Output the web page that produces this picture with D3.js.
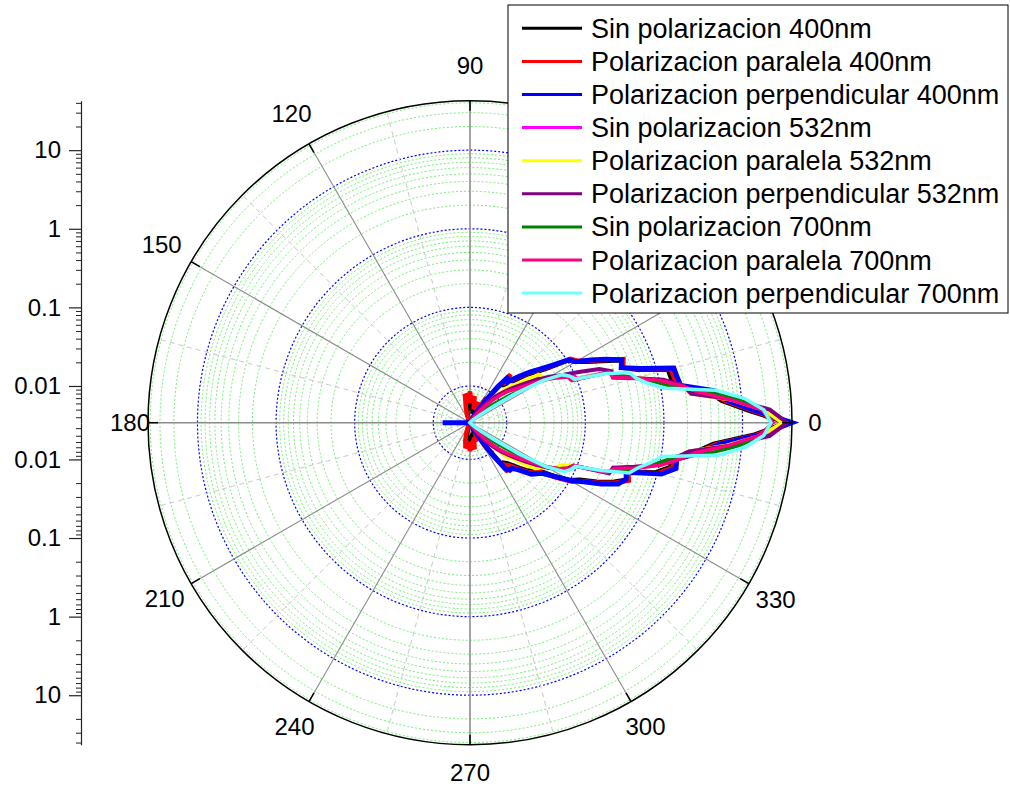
<!DOCTYPE html>
<html>
<head>
<meta charset="utf-8">
<script src="https://cdn.jsdelivr.net/npm/d3@7"></script>
<style>
  body { margin: 0; background: #ffffff; }
  svg { display: block; }
  text { font-family: Arial, "Liberation Sans", sans-serif; }
</style>
</head>
<body>
<svg id="chart" width="1010" height="788"></svg>
<script>
// Scattering angle (degrees) shared by every series
const angles = [
  0, 2.5, 5, 7.5, 10, 12.5, 15, 17.5, 20, 22.5, 25, 27.5, 30,
  32.5, 35, 37.5, 40, 42.5, 45, 47.5, 50, 52.5, 55, 57.5, 60,
  65, 70, 75, 80, 85, 90, 95, 100, 105, 110, 115, 120,
  125, 130, 135, 140, 145, 150, 155, 160, 165, 170, 175, 180,
  185, 190, 195, 200, 205, 210, 215, 220, 225, 230, 235, 240,
  245, 250, 255, 260, 265, 270, 275, 280, 285, 290, 295,
  300, 302.5, 305, 307.5, 310, 312.5, 315, 317.5, 320, 322.5, 325, 327.5,
  330, 332.5, 335, 337.5, 340, 342.5, 345, 347.5, 350, 352.5, 355, 357.5
];

// Scattered intensity for each polarization / wavelength
const sinPol400 = [
  36.0, 12.1, 5.6, 3.9, 1.52, 1.42, 1.38, 0.59, 0.385, 0.41, 0.245, 0.162, 0.121,
  0.102, 0.056, 0.039, 0.031, 0.023, 0.0182, 0.0158, 0.018, 0.0105, 0.0065, 0.0058, 0.0042,
  0.0048, 0.0052, 0.0045, 0.0058, 0.0050, 0.0064, 0.0055, 0.0060, 0.0046, 0.0040, 0.0035, 0.0030,
  0.0028, 0.0027, 0.0026, 0.0026, 0.0025, 0.0025, 0.0026, 0.0026, 0.0027, 0.0028, 0.0029, 0.0036,
  0.0029, 0.0028, 0.0027, 0.0026, 0.0025, 0.0025, 0.0026, 0.0026, 0.0027, 0.0028, 0.0029, 0.0031,
  0.0036, 0.0040, 0.0047, 0.0057, 0.0050, 0.0062, 0.0054, 0.0059, 0.0046, 0.0050, 0.0042,
  0.0041, 0.0056, 0.0088, 0.0165, 0.0158, 0.0172, 0.020, 0.0245, 0.030, 0.035, 0.039, 0.062,
  0.099, 0.128, 0.205, 0.318, 0.45, 0.41, 0.95, 1.39, 1.36, 2.6, 4.4, 13.8
];
const paralela400 = [
  37.9, 13.2, 5.99, 4.21, 1.65, 1.55, 1.50, 0.628, 0.404, 0.442, 0.261, 0.173, 0.129,
  0.111, 0.0602, 0.0424, 0.0335, 0.025, 0.0198, 0.0171, 0.0216, 0.0117, 0.0071, 0.0082, 0.0049,
  0.0058, 0.0065, 0.0051, 0.0075, 0.0061, 0.0085, 0.0069, 0.0080, 0.0055, 0.0045, 0.0038, 0.0031,
  0.0029, 0.0028, 0.0027, 0.0026, 0.0027, 0.0026, 0.0025, 0.0026, 0.0027, 0.0028, 0.0029, 0.0030,
  0.0029, 0.0028, 0.0027, 0.0026, 0.0025, 0.0026, 0.0027, 0.0026, 0.0027, 0.0028, 0.0030, 0.0033,
  0.0039, 0.0046, 0.0058, 0.0073, 0.0060, 0.0078, 0.0065, 0.0075, 0.0053, 0.0061, 0.0049,
  0.0049, 0.0082, 0.0098, 0.021, 0.0171, 0.0187, 0.0216, 0.0265, 0.0326, 0.0377, 0.0424, 0.0677,
  0.108, 0.137, 0.219, 0.339, 0.482, 0.442, 1.03, 1.50, 1.47, 2.80, 4.74, 14.9
];
const perpendicular400 = [
  42.5, 14.4, 6.53, 4.60, 1.80, 1.70, 1.65, 0.665, 0.381, 0.418, 0.276, 0.183, 0.122,
  0.105, 0.0639, 0.045, 0.0345, 0.0265, 0.0210, 0.0161, 0.0198, 0.0128, 0.0071, 0.0051, 0.0043,
  0.0036, 0.0032, 0.0030, 0.0029, 0.0030, 0.0031, 0.0029, 0.0028, 0.0027, 0.0028, 0.0027, 0.0026,
  0.0027, 0.0026, 0.0025, 0.0026, 0.0025, 0.0026, 0.0028, 0.0027, 0.0029, 0.0030, 0.0031, 0.0076,
  0.0031, 0.0030, 0.0028, 0.0027, 0.0026, 0.0025, 0.0026, 0.0025, 0.0026, 0.0027, 0.0026, 0.0027,
  0.0028, 0.0027, 0.0028, 0.0029, 0.0030, 0.0029, 0.0030, 0.0031, 0.0032, 0.0033, 0.0036,
  0.0043, 0.0061, 0.011, 0.0187, 0.021, 0.021, 0.0236, 0.0281, 0.0356, 0.040, 0.045, 0.0639,
  0.0992, 0.145, 0.239, 0.370, 0.442, 0.418, 1.13, 1.65, 1.60, 3.05, 5.17, 16.2
];
const sinPol532 = [
  33.5, 19.5, 7.6, 2.3, 1.88, 1.08, 0.54, 0.285, 0.27, 0.10, 0.096, 0.064, 0.05,
  0.039, 0.033, 0.023, 0.017, 0.015, 0.0106, 0.0081, 0.0064, 0.0052, 0.0045, 0.0039, 0.0035,
  0.0033, 0.0031, 0.0030, 0.0029, 0.0028, 0.0028, 0.0027, 0.0027, 0.0026, 0.0026, 0.0025, 0.0025,
  0.0025, 0.0024, 0.0024, 0.0024, 0.0023, 0.0023, 0.0023, 0.0023, 0.0024, 0.0024, 0.0024, 0.0025,
  0.0024, 0.0024, 0.0024, 0.0023, 0.0023, 0.0023, 0.0023, 0.0024, 0.0024, 0.0024, 0.0025, 0.0025,
  0.0025, 0.0026, 0.0026, 0.0027, 0.0027, 0.0028, 0.0028, 0.0029, 0.0030, 0.0031, 0.0033,
  0.0036, 0.0040, 0.0044, 0.0052, 0.0063, 0.0079, 0.0100, 0.0136, 0.016, 0.021, 0.029, 0.037,
  0.047, 0.061, 0.072, 0.090, 0.26, 0.285, 0.51, 1.03, 1.48, 2.18, 6.9, 19.5
];
const paralela532 = [
  31.8, 18.8, 7.35, 2.28, 1.91, 1.06, 0.558, 0.293, 0.261, 0.0963, 0.0857, 0.0602, 0.0505,
  0.0424, 0.040, 0.0265, 0.0187, 0.0176, 0.011, 0.0082, 0.0061, 0.0049, 0.0042, 0.0038, 0.0035,
  0.0032, 0.0030, 0.0029, 0.0028, 0.0028, 0.0027, 0.0027, 0.0026, 0.0026, 0.0025, 0.0025, 0.0024,
  0.0024, 0.0024, 0.0023, 0.0023, 0.0023, 0.0022, 0.0022, 0.0022, 0.0023, 0.0023, 0.0023, 0.0024,
  0.0023, 0.0023, 0.0023, 0.0022, 0.0022, 0.0022, 0.0023, 0.0023, 0.0023, 0.0024, 0.0024, 0.0024,
  0.0025, 0.0025, 0.0026, 0.0026, 0.0027, 0.0027, 0.0028, 0.0028, 0.0029, 0.0030, 0.0032,
  0.0035, 0.0038, 0.0042, 0.0049, 0.0060, 0.0078, 0.0104, 0.0157, 0.0176, 0.025, 0.0356, 0.040,
  0.0477, 0.0585, 0.0639, 0.0908, 0.261, 0.293, 0.526, 1.06, 1.50, 2.15, 6.53, 17.7
];
const perpendicular532 = [
  36.8, 22.4, 8.03, 2.35, 1.91, 1.13, 0.526, 0.276, 0.282, 0.206, 0.115, 0.0697, 0.0505,
  0.0356, 0.0265, 0.0198, 0.0157, 0.0128, 0.0104, 0.0082, 0.0069, 0.0058, 0.0049, 0.0042, 0.0038,
  0.0034, 0.0032, 0.0031, 0.0030, 0.0029, 0.0028, 0.0028, 0.0027, 0.0027, 0.0026, 0.0026, 0.0025,
  0.0025, 0.0025, 0.0024, 0.0024, 0.0024, 0.0023, 0.0023, 0.0023, 0.0024, 0.0024, 0.0025, 0.0025,
  0.0025, 0.0024, 0.0024, 0.0023, 0.0023, 0.0023, 0.0024, 0.0024, 0.0024, 0.0025, 0.0025, 0.0026,
  0.0026, 0.0027, 0.0027, 0.0028, 0.0028, 0.0029, 0.0029, 0.0030, 0.0031, 0.0032, 0.0034,
  0.0038, 0.0042, 0.0047, 0.0056, 0.0067, 0.0080, 0.0098, 0.0120, 0.0148, 0.0187, 0.025, 0.0335,
  0.0477, 0.0639, 0.0807, 0.0908, 0.261, 0.276, 0.496, 1.00, 1.47, 2.21, 7.35, 22.4
];
const sinPol700 = [
  23.6, 18.2, 9.0, 3.8, 1.45, 0.86, 0.53, 0.35, 0.245, 0.089, 0.083, 0.065, 0.041,
  0.022, 0.013, 0.009, 0.0072, 0.006, 0.0052, 0.0047, 0.0043, 0.0040, 0.0037, 0.0035, 0.0033,
  0.0031, 0.0030, 0.0029, 0.0028, 0.0027, 0.0027, 0.0026, 0.0026, 0.0025, 0.0025, 0.0024, 0.0024,
  0.0024, 0.0023, 0.0023, 0.0023, 0.0022, 0.0022, 0.0022, 0.0023, 0.0023, 0.0023, 0.0024, 0.0024,
  0.0024, 0.0023, 0.0023, 0.0023, 0.0022, 0.0022, 0.0022, 0.0023, 0.0023, 0.0023, 0.0024, 0.0024,
  0.0024, 0.0025, 0.0025, 0.0026, 0.0026, 0.0027, 0.0027, 0.0028, 0.0029, 0.0030, 0.0031,
  0.0033, 0.0034, 0.0036, 0.0038, 0.0041, 0.0045, 0.0052, 0.0062, 0.0075, 0.0095, 0.014, 0.024,
  0.045, 0.068, 0.086, 0.093, 0.225, 0.37, 0.565, 0.9, 1.35, 3.7, 9.0, 17.8
];
const paralela700 = [
  24.4, 17.7, 7.35, 3.05, 1.80, 1.03, 0.526, 0.276, 0.261, 0.0857, 0.0807, 0.0585, 0.0424,
  0.0281, 0.021, 0.0166, 0.0139, 0.011, 0.0087, 0.0069, 0.0055, 0.0046, 0.0040, 0.0036, 0.0035,
  0.0032, 0.0031, 0.0030, 0.0029, 0.0028, 0.0028, 0.0027, 0.0026, 0.0026, 0.0025, 0.0025, 0.0024,
  0.0024, 0.0024, 0.0023, 0.0023, 0.0023, 0.0022, 0.0022, 0.0022, 0.0023, 0.0023, 0.0023, 0.0024,
  0.0024, 0.0023, 0.0023, 0.0023, 0.0022, 0.0022, 0.0022, 0.0023, 0.0023, 0.0024, 0.0024, 0.0025,
  0.0025, 0.0026, 0.0026, 0.0027, 0.0027, 0.0028, 0.0029, 0.0030, 0.0031, 0.0032, 0.0034,
  0.0035, 0.0036, 0.0040, 0.0046, 0.0053, 0.0067, 0.0085, 0.0107, 0.0135, 0.0171, 0.0216, 0.0298,
  0.045, 0.062, 0.0832, 0.0908, 0.246, 0.293, 0.575, 1.06, 1.70, 2.72, 6.93, 16.7
];
const perpendicular700 = [
  23.0, 18.8, 11.1, 4.88, 1.13, 0.706, 0.526, 0.455, 0.225, 0.0935, 0.0857, 0.0718, 0.040,
  0.0171, 0.0078, 0.0051, 0.0042, 0.0038, 0.0031, 0.0029, 0.0027, 0.0026, 0.0025, 0.0024, 0.0023,
  0.0023, 0.0023, 0.0022, 0.0022, 0.0022, 0.0021, 0.0021, 0.0021, 0.0021, 0.0021, 0.0021, 0.0021,
  0.0021, 0.0021, 0.0020, 0.0020, 0.0020, 0.0020, 0.0020, 0.0020, 0.0020, 0.0021, 0.0021, 0.0021,
  0.0021, 0.0021, 0.0020, 0.0020, 0.0020, 0.0020, 0.0020, 0.0020, 0.0021, 0.0021, 0.0021, 0.0021,
  0.0021, 0.0021, 0.0021, 0.0022, 0.0022, 0.0022, 0.0022, 0.0023, 0.0023, 0.0023, 0.0024,
  0.0024, 0.0025, 0.0026, 0.0027, 0.0028, 0.0030, 0.0032, 0.0038, 0.0043, 0.0053, 0.0082, 0.0187,
  0.045, 0.0762, 0.0882, 0.0963, 0.206, 0.455, 0.558, 0.770, 1.03, 5.17, 11.4, 18.8
];

const seriesNames = [
  "Sin polarizacion 400nm", "Polarizacion paralela 400nm", "Polarizacion perpendicular 400nm",
  "Sin polarizacion 532nm", "Polarizacion paralela 532nm", "Polarizacion perpendicular 532nm",
  "Sin polarizacion 700nm", "Polarizacion paralela 700nm", "Polarizacion perpendicular 700nm"
];
const seriesValues = [
  sinPol400, paralela400, perpendicular400,
  sinPol532, paralela532, perpendicular532,
  sinPol700, paralela700, perpendicular700
];
const seriesColors = ["#000000", "#ff0000", "#0000ff", "#ff00ff", "#ffff00", "#800080", "#008000", "#ff0080", "#70ffff"];
const seriesWidths = [4.5, 4.5, 5, 3.5, 3.5, 4, 3.5, 3.5, 3.5];

const angleTicks = [0, 30, 60, 90, 120, 150, 180, 210, 240, 270, 300, 330];
const radialTicks = [0.01, 0.1, 1, 10];
const radialDomain = [0.00341, 42.6];

// ---- layout ----
const cx = 470, cy = 422.7, R = 322;
const legendBox = { x: 508, y: 5, w: 500, h: 308 };
const svg = d3.select("#chart");
const rad = d => d * Math.PI / 180;

const r = d3.scaleLog().domain(radialDomain).range([0, R]).clamp(true);

// minor radial values (2..9 of each decade) inside the domain
const minorRadial = [];
[0.001, 0.01, 0.1, 1, 10].forEach(dec => {
  for (let k = 2; k <= 9; k++) {
    const v = k * dec;
    if (v > radialDomain[0] && v < radialDomain[1]) minorRadial.push(v);
  }
});

const plot = svg.append("g").attr("transform", `translate(${cx},${cy})`);

// radial grid
plot.append("g").selectAll("circle").data(minorRadial).join("circle")
  .attr("r", d => r(d)).attr("fill", "none")
  .attr("stroke", "#72ee72").attr("stroke-width", 1).attr("stroke-dasharray", "2,2");
plot.append("g").selectAll("circle").data(radialTicks).join("circle")
  .attr("r", d => r(d)).attr("fill", "none")
  .attr("stroke", "#0000ff").attr("stroke-width", 1.2).attr("stroke-dasharray", "2,2");

// angular grid: minor dashed, major solid
const minorAngles = angleTicks.map(a => a + 15);
plot.append("g").selectAll("line").data(minorAngles).join("line")
  .attr("x1", 0).attr("y1", 0)
  .attr("x2", d => R * Math.cos(rad(d))).attr("y2", d => -R * Math.sin(rad(d)))
  .attr("stroke", "#c8c8c8").attr("stroke-width", 1).attr("stroke-dasharray", "5,4");
plot.append("g").selectAll("line").data(angleTicks).join("line")
  .attr("x1", 0).attr("y1", 0)
  .attr("x2", d => R * Math.cos(rad(d))).attr("y2", d => -R * Math.sin(rad(d)))
  .attr("stroke", "#8c8c8c").attr("stroke-width", d => d % 90 === 0 ? 1.6 : 1.1);

// data curves
const radial = d3.lineRadial()
  .angle(d => rad(90 - d[0]))
  .radius(d => r(d[1]))
  .curve(d3.curveLinearClosed);

seriesValues.forEach((vals, i) => {
  const pts = angles.map((a, j) => [a, vals[j]]);
  plot.append("path")
    .attr("d", radial(pts))
    .attr("fill", "none")
    .attr("stroke", seriesColors[i])
    .attr("stroke-width", seriesWidths[i])
    .attr("stroke-linejoin", "miter")
    .attr("stroke-miterlimit", 3);
});

// outer ring and its ticks
plot.append("circle").attr("r", R).attr("fill", "none").attr("stroke", "#000").attr("stroke-width", 1.5);
plot.append("g").selectAll("line").data(angleTicks).join("line")
  .attr("x1", d => (R - 10) * Math.cos(rad(d))).attr("y1", d => -(R - 10) * Math.sin(rad(d)))
  .attr("x2", d => R * Math.cos(rad(d))).attr("y2", d => -R * Math.sin(rad(d)))
  .attr("stroke", "#000").attr("stroke-width", 1.5);

// angle labels (those that would sit under the legend box are hidden by it)
const labelPos = d => {
  const c = Math.cos(rad(d)), s = Math.sin(rad(d));
  const off = 35 - (c > 0 ? 12 : 17) * Math.pow(Math.abs(c), 20) - 7 * Math.max(0, -s);
  return [cx + (R + off) * c, cy - (R + off) * s];
};
const visibleLabels = angleTicks.filter(d => {
  const [x, y] = labelPos(d);
  return !(x > legendBox.x - 15 && x < legendBox.x + legendBox.w && y > legendBox.y && y < legendBox.y + legendBox.h + 10);
});
svg.append("g").selectAll("text").data(visibleLabels).join("text")
  .attr("x", d => labelPos(d)[0])
  .attr("y", d => labelPos(d)[1])
  .attr("dy", "0.35em")
  .attr("text-anchor", "middle")
  .attr("font-size", 24)
  .attr("fill", "#000")
  .text(d => d);

// left radial axis, mirrored above and below the center
const axisX = 81;
const yTop = d3.scaleLog().domain(radialDomain).range([cy, cy - R]).clamp(true);
const yBot = d3.scaleLog().domain(radialDomain).range([cy, cy + R]).clamp(true);
[yTop, yBot].forEach(sc => {
  const minorG = svg.append("g").attr("transform", `translate(${axisX},0)`)
    .call(d3.axisLeft(sc).tickValues(minorRadial).tickSize(5).tickSizeOuter(0).tickFormat(""));
  minorG.select(".domain").remove();
  minorG.selectAll("line").attr("stroke", "#222");
  const majorG = svg.append("g").attr("transform", `translate(${axisX},0)`)
    .call(d3.axisLeft(sc).tickValues(radialTicks).tickSize(12).tickSizeOuter(0)
      .tickPadding(8).tickFormat(d3.format("~g")));
  majorG.attr("font-size", 24).attr("font-family", "Arial, 'Liberation Sans', sans-serif");
  majorG.select(".domain").attr("stroke", "#222").attr("stroke-width", 1.2);
  majorG.selectAll("line").attr("stroke", "#222").attr("stroke-width", 1.2);
  majorG.selectAll("text").attr("fill", "#000");
});

// legend
const legend = svg.append("g");
legend.append("rect")
  .attr("x", legendBox.x).attr("y", legendBox.y).attr("width", legendBox.w).attr("height", legendBox.h)
  .attr("fill", "#fff").attr("stroke", "#000").attr("stroke-width", 1);
const rowY = i => 28.3 + i * 33.1;
seriesNames.forEach((name, i) => {
  legend.append("line")
    .attr("x1", 522).attr("x2", 582).attr("y1", rowY(i)).attr("y2", rowY(i))
    .attr("stroke", seriesColors[i]).attr("stroke-width", 3);
  legend.append("text")
    .attr("x", 591).attr("y", rowY(i) + 9.5)
    .attr("font-size", 27).attr("fill", "#000")
    .text(name);
});
</script>
</body>
</html>
